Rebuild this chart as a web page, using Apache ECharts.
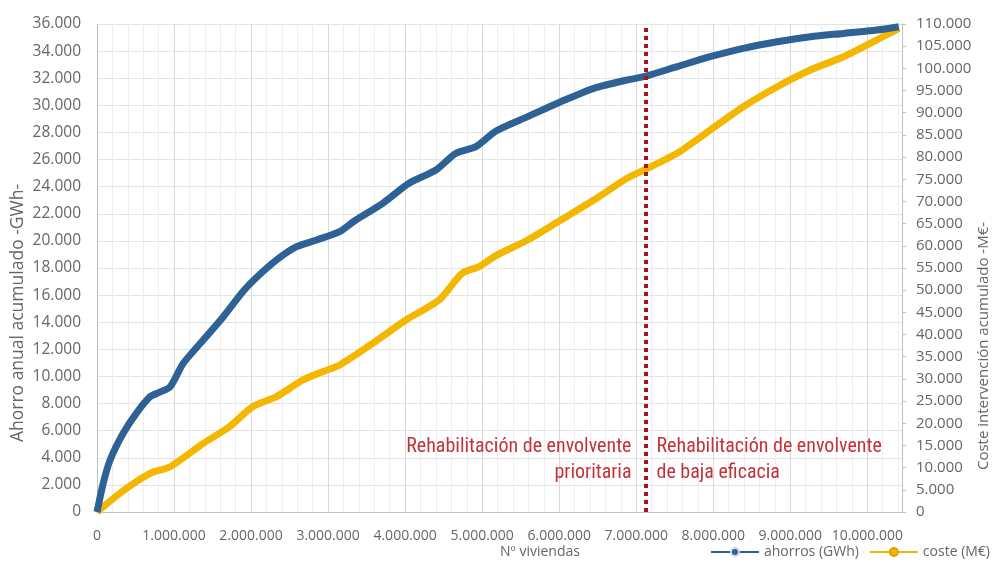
<!DOCTYPE html>
<html>
<head>
<meta charset="utf-8">
<script src="https://cdn.jsdelivr.net/npm/echarts@6/dist/echarts.min.js"></script>
<style>html,body{margin:0;padding:0;background:#fff}#c{width:993px;height:568px}</style>
</head>
<body>
<div id="c"></div>
<script>
// ---- data ----
var ahorrosX = [0, 80000, 170000, 340000, 510000, 690000, 800000, 950000, 1120000, 1380000, 1640000, 1900000, 2070000, 2330000, 2590000, 2850000, 3150000, 3360000, 3710000, 4050000, 4400000, 4660000, 4920000, 5180000, 5590000, 6020000, 6450000, 6880000, 7100000, 7530000, 7960000, 8390000, 8830000, 9260000, 9690000, 10120000, 10410000];
var ahorrosY = [0, 2100, 3836, 5806, 7281, 8506, 8800, 9244, 10970, 12689, 14407, 16300, 17300, 18590, 19572, 20065, 20679, 21540, 22773, 24248, 25229, 26462, 26950, 28100, 29163, 30270, 31256, 31870, 32113, 32850, 33589, 34208, 34694, 35063, 35306, 35553, 35800];
var costeX = [0, 340000, 690000, 950000, 1380000, 1720000, 2020000, 2330000, 2670000, 2930000, 3150000, 3580000, 4010000, 4440000, 4740000, 4960000, 5180000, 5590000, 6020000, 6450000, 6880000, 7100000, 7530000, 7960000, 8390000, 8830000, 9260000, 9690000, 10120000, 10410000];
var costeY = [0, 4800, 8723, 10211, 15485, 19227, 23735, 25989, 29753, 31624, 33134, 38025, 43277, 47785, 53803, 55291, 57800, 61309, 65817, 70325, 75216, 77087, 80850, 86103, 91355, 95863, 99627, 102625, 106389, 109026];
var splitViviendas = 7120000;
var seriesNames = ['ahorros (GWh)', 'coste (M€)'];
var leftTitle = 'Ahorro anual acumulado -GWh-';
var rightTitle = 'Coste intervención acumulado -M€-';
var xTitle = 'Nº viviendas';
var noteLeft = 'Rehabilitación de envolvente\nprioritaria';
var noteRight = 'Rehabilitación de envolvente\nde baja eficacia';

function pairs(xs, ys){ return xs.map(function(x,i){ return [x, ys[i]]; }); }
function fmt(v){ return String(Math.round(v)).replace(/\B(?=(\d{3})+(?!\d))/g, '.'); }

var chart = echarts.init(document.getElementById('c'), null, {renderer:'canvas'});
var labelColor = '#666666';
var font = '"Open Sans", "Noto Sans", sans-serif';
var option = {
  animation: false,
  backgroundColor: '#fff',
  grid: {left: 97, right: 91, top: 24, bottom: 56, containLabel: false},
  legend: {
    data: seriesNames, right: -2, bottom: 4, itemWidth: 48, itemHeight: 10, itemGap: 10,
    textStyle: {color: labelColor, fontSize: 14, fontFamily: font}
  },
  xAxis: {
    type: 'value', min: 0, max: 10450000, interval: 1000000,
    axisLine: {show: true, lineStyle: {color: '#bfbfbf'}},
    axisTick: {show: false},
    axisLabel: {color: labelColor, fontSize: 14, fontFamily: font, margin: 17, showMaxLabel: false, formatter: fmt},
    splitLine: {show: true, lineStyle: {color: '#d9d9d9'}},
    minorTick: {show: false, splitNumber: 5},
    minorSplitLine: {show: true, lineStyle: {color: '#eeeeee'}}
  },
  yAxis: [{
    type: 'value', min: 0, max: 36000, interval: 2000,
    axisLine: {show: true, lineStyle: {color: '#bfbfbf'}},
    axisTick: {show: false},
    axisLabel: {color: labelColor, fontSize: 15.5, fontFamily: font, margin: 16, formatter: fmt},
    splitLine: {show: true, lineStyle: {color: '#e3e3e3'}}
  }, {
    type: 'value', min: 0, max: 110000, interval: 5000, position: 'right',
    axisLine: {show: true, lineStyle: {color: '#bfbfbf'}},
    axisTick: {show: true, inside: false, length: 4, lineStyle: {color: '#bfbfbf'}},
    axisLabel: {color: labelColor, fontSize: 15, fontFamily: font, margin: 14, formatter: fmt},
    splitLine: {show: false}
  }],
  series: [{
    name: seriesNames[0], type: 'line', yAxisIndex: 0, data: pairs(ahorrosX, ahorrosY),
    showSymbol: false, symbol: 'circle', symbolSize: 6, smooth: 0.25,
    itemStyle: {color: '#2f6294', borderColor: '#c9d7e6', borderWidth: 1},
    lineStyle: {color: '#2f6294', width: 7},
    z: 3,
    markLine: {
      silent: true, symbol: ['none','none'], label: {show: false},
      lineStyle: {color: '#a8121b', type: [4, 4], width: 4},
      data: [{xAxis: splitViviendas}]
    }
  }, {
    name: seriesNames[1], type: 'line', yAxisIndex: 1, data: pairs(costeX, costeY),
    showSymbol: false, symbol: 'circle', symbolSize: 6, smooth: 0.25,
    itemStyle: {color: '#f4b700', borderColor: '#e89b00', borderWidth: 1},
    lineStyle: {color: '#f4b700', width: 7},
    z: 2
  }]
};
chart.setOption(option);

var sx = chart.convertToPixel({xAxisIndex: 0}, splitViviendas);
var y1 = chart.convertToPixel({yAxisIndex: 0}, 4800);
var textRed = '#c0343a';
var noteFont = '20px "Roboto Condensed", "Liberation Sans Narrow", "Roboto", sans-serif';
chart.setOption({
  graphic: [
    {type: 'text', style: {text: leftTitle, fill: labelColor, font: '17.5px ' + font, textAlign: 'center', verticalAlign: 'middle'}, rotation: Math.PI/2, x: 18, y: 313},
    {type: 'text', style: {text: rightTitle, fill: labelColor, font: '15px ' + font, textAlign: 'center', verticalAlign: 'middle'}, rotation: Math.PI/2, x: 984, y: 346},
    {type: 'text', style: {text: xTitle, fill: labelColor, font: '14px ' + font, textAlign: 'center', verticalAlign: 'middle'}, x: 540, y: 552},
    {type: 'text', style: {text: noteLeft, fill: textRed, font: noteFont, textAlign: 'right', verticalAlign: 'middle', lineHeight: 26}, x: sx - 14, y: y1 + 13},
    {type: 'text', style: {text: noteRight, fill: textRed, font: noteFont, textAlign: 'left', verticalAlign: 'middle', lineHeight: 26}, x: sx + 11, y: y1 + 13}
  ]
});
</script>
</body>
</html>
